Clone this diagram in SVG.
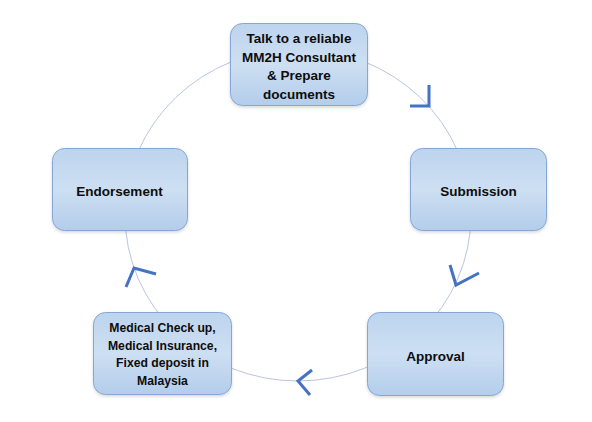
<svg xmlns="http://www.w3.org/2000/svg" width="592" height="422" viewBox="0 0 592 422">
  <defs>
    <linearGradient id="nodeFill" x1="0" y1="0" x2="0" y2="1">
      <stop offset="0" stop-color="#bdd4ee"/>
      <stop offset="0.5" stop-color="#cddff2"/>
      <stop offset="1" stop-color="#b3cdeb"/>
    </linearGradient>
    <filter id="shadow" x="-10%" y="-10%" width="120%" height="130%">
      <feDropShadow dx="0" dy="1.5" stdDeviation="1.5" flood-color="#000" flood-opacity="0.16"/>
    </filter>
  </defs>
  <style>
    .node rect { fill: url(#nodeFill); stroke: #86a7d6; stroke-width: 1; filter: url(#shadow); }
    .node text { font-family: "Liberation Sans", Arial, sans-serif; font-weight: bold; font-size: 13.5px; fill: #0d0d0d; text-anchor: middle; }
    .node text.small { font-size: 12.2px; }
    .ring { fill: none; stroke: #a7b5d6; stroke-width: 0.8; }
    .chev { fill: none; stroke: #4472c4; stroke-width: 3; stroke-linejoin: miter; stroke-linecap: butt; }
  </style>
  <rect width="592" height="422" fill="#ffffff"/>
  <g id="connectors">
    <ellipse class="ring" cx="298" cy="215" rx="173" ry="166"/>
    <polyline class="chev" points="429,85 429,106 410,106"/>
    <polyline class="chev" points="450,265 456,285 479,273"/>
    <polyline class="chev" points="312,370 298,381 310,395"/>
    <polyline class="chev" points="126,287 134,268 156,274"/>
  </g>
  <g id="node-consult" class="node">
    <rect x="230.5" y="23.5" width="137" height="82" rx="12"/>
    <text x="299" y="43">Talk to a reliable</text>
    <text x="299" y="61.5">MM2H Consultant</text>
    <text x="299" y="80">&amp; Prepare</text>
    <text x="299" y="98.5">documents</text>
  </g>
  <g id="node-submission" class="node">
    <rect x="410.5" y="148.5" width="136" height="82" rx="12"/>
    <text x="478.5" y="196">Submission</text>
  </g>
  <g id="node-approval" class="node">
    <rect x="367.5" y="312.5" width="136" height="83" rx="12"/>
    <text x="435.5" y="361">Approval</text>
  </g>
  <g id="node-medical" class="node">
    <rect x="93.5" y="312.5" width="138" height="82" rx="12"/>
    <text class="small" x="162.5" y="332">Medical Check up,</text>
    <text class="small" x="162.5" y="349.5">Medical Insurance,</text>
    <text class="small" x="162.5" y="367">Fixed deposit in</text>
    <text class="small" x="162.5" y="384.5">Malaysia</text>
  </g>
  <g id="node-endorsement" class="node">
    <rect x="52.5" y="148.5" width="135" height="82" rx="12"/>
    <text x="119.5" y="196">Endorsement</text>
  </g>
</svg>
